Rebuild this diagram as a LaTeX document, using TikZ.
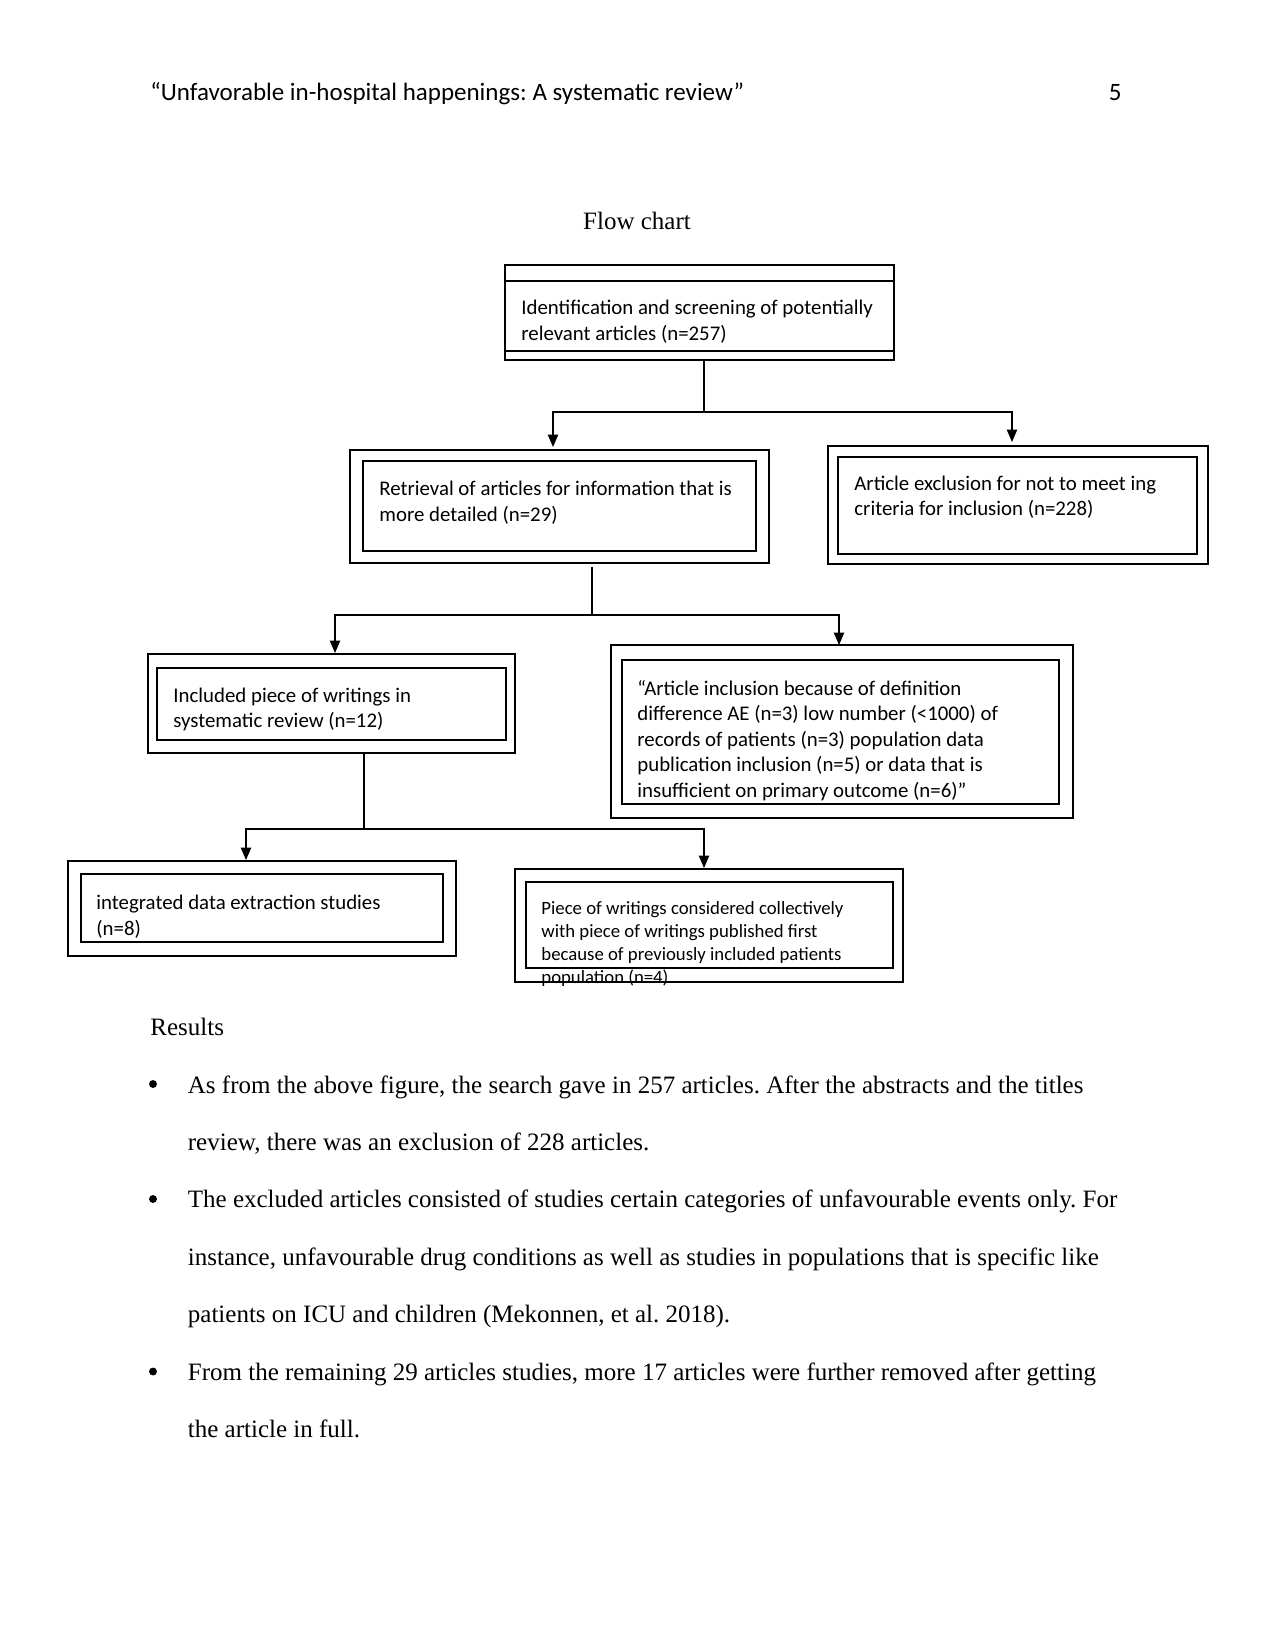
\documentclass[tikz,border=0pt]{standalone}
\usepackage{fontspec}
\setmainfont{Liberation Serif}
\newfontfamily\calfont{Carlito}
\usetikzlibrary{arrows.meta, positioning, calc, fit}

\begin{document}
\frenchspacing
\begin{tikzpicture}[
  x=0.48pt, y=-0.48pt,
  outerbox/.style={draw, line width=0.7pt, inner sep=0pt},
  innerbox/.style={draw, line width=1.2pt, inner sep=0pt},
  thinbox/.style={draw, line width=0.5pt, inner sep=0pt},
  boxtext/.style={font=\calfont\fontsize{10}{12.2}\selectfont, align=left,
    inner sep=0pt, anchor=north west},
  smalltext/.style={font=\calfont\fontsize{9}{10.9}\selectfont, align=left,
    inner sep=0pt, anchor=north west},
  bodytext/.style={font=\fontsize{12}{14}\selectfont, inner sep=0pt, anchor=base west},
  dot/.style={circle, fill, inner sep=0pt, minimum size=3.8pt},
  link/.style={line width=0.6pt},
  >={Triangle[width=5pt, length=6pt]}
]
  \useasboundingbox (0,0) rectangle (1275,1651);

  % Page header
  \node[font=\calfont\fontsize{12}{14}\selectfont, inner sep=0pt, anchor=base west]
    (header) at (150,101) {“Unfavorable in-hospital happenings: A systematic review”};
  \node[font=\calfont\fontsize{12}{14}\selectfont, inner sep=0pt, anchor=base east]
    (pageno) at (1122,101) {5};

  % Title
  \node[font=\fontsize{12}{14}\selectfont, inner sep=0pt, anchor=base]
    (title) at (637,230) {Flow chart};

  % Identification
  \node[outerbox, fit={(505,265) (894,281)}] (identtop) {};
  \node[outerbox, fit={(505,281) (894,351)}] (ident) {};
  \node[outerbox, fit={(505,351) (894,360)}] (identbot) {};
  \node[boxtext] (identtxt) at (521,300)
    {Identification and screening of potentially\\relevant articles (n=257)};

  % Retrieval and exclusion
  \node[outerbox, fit={(350,450) (769,563)}] (retr) {};
  \node[innerbox, fit={(363,461) (756,551)}] (retrin) {};
  \node[boxtext] (retrtxt) at (379,481)
    {Retrieval of articles for information that is\\more detailed (n=29)};

  \node[outerbox, fit={(828,446) (1208,564)}] (excl) {};
  \node[innerbox, fit={(838,457) (1197,554)}] (exclin) {};
  \node[boxtext] (excltxt) at (854,475.5)
    {Article exclusion for not to meet ing\\criteria for inclusion (n=228)};

  % Included and further inclusion
  \node[outerbox, fit={(148,654) (515,753)}] (incl) {};
  \node[innerbox, fit={(157,668) (506,740)}] (inclin) {};
  \node[boxtext] (incltxt) at (173,687.5)
    {Included piece of writings in\\systematic review (n=12)};

  \node[outerbox, fit={(611,645) (1073,818)}] (reas) {};
  \node[innerbox, fit={(622,660) (1059,804)}] (reasin) {};
  \node[boxtext] (reastxt) at (637,680)
    {“Article inclusion because of definition\\difference AE (n=3) low number (<1000) of\\
     records of patients (n=3) population data\\publication inclusion (n=5) or data that is\\
     insufficient on primary outcome (n=6)”};

  % Extraction and collective
  \node[outerbox, fit={(68,861) (456,956)}] (extr) {};
  \node[innerbox, fit={(81,874) (443,942)}] (extrin) {};
  \node[boxtext] (extrtxt) at (96,895)
    {integrated data extraction studies\\(n=8)};

  \node[smalltext] (colltxt) at (541,901.5)
    {Piece of writings considered collectively\\with piece of writings published first\\
     because of previously included patients\\population (n=4)};
  \node[thinbox, fit={(515,869) (903,982)}] (coll) {};
  \node[thinbox, fit={(526,882) (893,968)}] (collin) {};

  % Connectors
  \coordinate (j1) at (704,412);
  \coordinate (t2) at (553,447);
  \coordinate (t3) at (1012,442);
  \draw[link] (identbot.south -| j1) -- (j1);
  \draw[link, ->] (j1) -| (t2);
  \draw[link, ->] (j1) -| (t3);

  \coordinate (j2) at (592,615);
  \coordinate (t4) at (335,653);
  \coordinate (t5) at (839,645);
  \draw[link] ([yshift=-1.5pt]retr.south -| j2) -- (j2);
  \draw[link, ->] (j2) -| (t4);
  \draw[link, ->] (j2) -| (t5);

  \coordinate (j3) at (364,829);
  \coordinate (t6) at (246,860);
  \coordinate (t7) at (704,868);
  \draw[link] (incl.south -| j3) -- (j3);
  \draw[link, ->] (j3) -| (t6);
  \draw[link, ->] (j3) -| (t7);

  % Results
  \node[bodytext] (results) at (150,1035) {Results};
  \foreach \y/\t [count=\i] in {
    1093/{As from the above figure, the search gave in 257 articles. After the abstracts and the titles},
    1150/{review, there was an exclusion of 228 articles.},
    1207.5/{The excluded articles consisted of studies certain categories of unfavourable events only. For},
    1265/{instance, unfavourable drug conditions as well as studies in populations that is specific like},
    1322.5/{patients on ICU and children (Mekonnen, et al. 2018).},
    1380/{From the remaining 29 articles studies, more 17 articles were further removed after getting},
    1437.5/{the article in full.}} {
    \node[bodytext] (line\i) at (187.5,\y) {\t};
  }
  \foreach \y [count=\i] in {1084, 1199, 1371.5} {
    \node[dot] (bullet\i) at (153,\y) {};
  }
\end{tikzpicture}
\end{document}
